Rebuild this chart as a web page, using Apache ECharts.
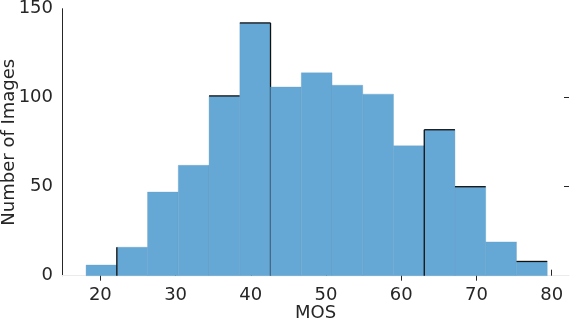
<!DOCTYPE html>
<html>
<head>
<meta charset="utf-8">
<script src="https://cdn.jsdelivr.net/npm/echarts@6/dist/echarts.min.js"></script>
<style>
  html, body { margin: 0; padding: 0; background: #fff; }
  #chart { width: 572px; height: 322px; }
</style>
</head>
<body>
<div id="chart"></div>
<script>
// bin edges of the MOS histogram
var binEdges = [18.1, 22.19, 26.27, 30.36, 34.45, 38.54, 42.62, 46.71, 50.8, 54.88, 58.97, 63.06, 67.14, 71.23, 75.32, 79.41];
var counts = [6, 16, 47, 62, 101, 142, 106, 114, 107, 102, 73, 82, 50, 19, 8];
var xTicks = [20, 30, 40, 50, 60, 70, 80];
var yTicks = [0, 50, 100, 150];
// odd dark outlines that show in the original figure
var darkTop = [4, 5, 11, 12, 14];
var darkLeft = [1, 11];
var darkRight = [5];
var topTicks = [20, 60, 70];
var rightTicks = [50, 100];

var textColor = "#262626";
var barColor = "#66a8d5";

var bins = counts.map(function (c, i) {
  return [binEdges[i], binEdges[i + 1], c, i];
});

var chart = echarts.init(document.getElementById("chart"));
chart.setOption({
  animation: false,
  grid: { left: 62, right: 3, top: 8.7, bottom: 46.3, containLabel: false, outerBoundsMode: "none" },
  xAxis: [
    {
      type: "value",
      min: 14.9,
      max: 82.3,
      name: "MOS",
      nameLocation: "middle",
      nameGap: 29,
      nameMoveOverlap: false,
      nameTextStyle: { color: textColor, fontSize: 18, fontFamily: "DejaVu Sans" },
      splitLine: { show: false },
      axisLine: { show: true, onZero: false, lineStyle: { color: "#ebebeb", width: 1 } },
      axisTick: { show: true, inside: true, length: 6, customValues: xTicks, lineStyle: { color: textColor } },
      axisLabel: { customValues: xTicks, color: textColor, fontSize: 18, fontFamily: "DejaVu Sans", margin: 11 },
    },
    {
      type: "value",
      position: "top",
      min: 14.9,
      max: 82.3,
      splitLine: { show: false },
      axisLine: { show: false },
      axisTick: { show: true, inside: true, length: 5, customValues: topTicks, lineStyle: { color: textColor } },
      axisLabel: { show: false },
    },
  ],
  yAxis: [
    {
      type: "value",
      min: 0,
      max: 150,
      interval: 50,
      name: "Number of Images",
      nameLocation: "middle",
      nameGap: 44,
      nameMoveOverlap: false,
      nameTextStyle: { color: textColor, fontSize: 18, fontFamily: "DejaVu Sans" },
      splitLine: { show: false },
      axisLine: { show: true, lineStyle: { color: textColor, width: 1 } },
      axisTick: { show: false },
      axisLabel: { color: textColor, fontSize: 18, fontFamily: "DejaVu Sans", margin: 9 },
    },
    {
      type: "value",
      position: "right",
      min: 0,
      max: 150,
      splitLine: { show: false },
      axisLine: { show: false },
      axisTick: { show: true, inside: true, length: 5, customValues: rightTicks, lineStyle: { color: textColor } },
      axisLabel: { show: false },
    },
  ],
  series: [
    {
      type: "custom",
      xAxisIndex: 0,
      yAxisIndex: 0,
      data: bins,
      renderItem: function (params, api) {
        var i = api.value(3);
        var tl = api.coord([api.value(0), api.value(2)]);
        var br = api.coord([api.value(1), 0]);
        var children = [
          {
            type: "rect",
            shape: { x: tl[0], y: tl[1], width: br[0] - tl[0], height: br[1] - tl[1] },
            style: { fill: barColor, stroke: "rgba(95,150,190,0.5)", lineWidth: 0.6 },
          },
        ];
        var dark = { stroke: "#111", lineWidth: 1.3 };
        if (darkTop.indexOf(i) >= 0) {
          children.push({ type: "line", shape: { x1: tl[0], y1: tl[1], x2: br[0], y2: tl[1] }, style: dark });
        }
        if (darkLeft.indexOf(i) >= 0) {
          children.push({ type: "line", shape: { x1: tl[0], y1: tl[1], x2: tl[0], y2: br[1] }, style: dark });
        }
        if (darkRight.indexOf(i) >= 0) {
          children.push({ type: "line", shape: { x1: br[0], y1: tl[1], x2: br[0], y2: br[1] }, style: dark });
        }
        return { type: "group", children: children };
      },
    },
  ],
});
</script>
</body>
</html>
